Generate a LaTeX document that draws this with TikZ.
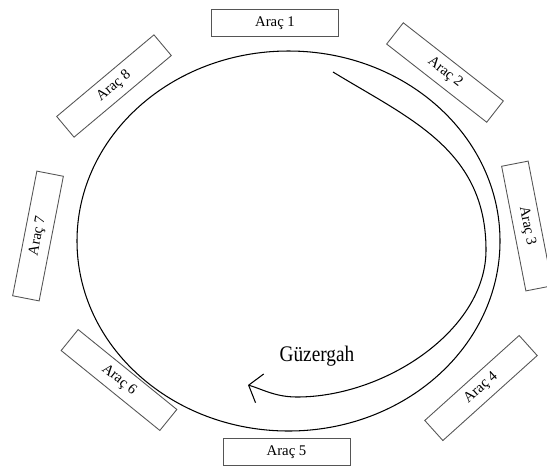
\documentclass[tikz,border=0pt]{standalone}
\usepackage{fontspec}
\setmainfont{Liberation Serif}
\usetikzlibrary{arrows.meta}
\definecolor{cline}{HTML}{555555}

\begin{document}
\begin{tikzpicture}[x=0.02cm, y=-0.02cm,
      arac/.style={draw=cline, line width=0.5pt, minimum width=2.54cm, minimum height=0.54cm, inner sep=0pt, font=\fontsize{8.4}{10}\selectfont},
      yol/.style={line width=0.6pt},
      arr/.style={line width=0.6pt, -{Straight Barb[length=6.5pt, width=17pt]}}
    ]
    \useasboundingbox (0,0) rectangle (547,471);
    \draw[yol] (288.5,241) ellipse [x radius=211.5, y radius=190];
    \node[arac] (a1) at (275,23) {Araç 1};
    \node[arac, rotate=-38] (a2) at (445,72.5) {Araç 2};
    \node[arac, rotate=-79] (a3) at (527,226) {Araç 3};
    \node[arac, rotate=42] (a4) at (481,388) {Araç 4};
    \node[arac] (a5) at (286.5,452) {Araç 5};
    \node[arac, rotate=-39] (a6) at (119,380) {Araç 6};
    \node[arac, rotate=79] (a7) at (38,236) {Araç 7};
    \node[arac, rotate=40] (a8) at (114,86) {Araç 8};
    \coordinate (gs) at (333,72);
    \coordinate (gr) at (486,250);
    \coordinate (gb) at (297,397);
    \coordinate (ge) at (248,385);
    \draw[arr] (gs) .. controls (410,119) and (486,150) .. (gr) .. controls (486,330) and (385,397) .. (gb) .. controls (275,397) and (262,389) .. (ge);
    \node[font=\fontsize{11}{13}\selectfont, yscale=1.15] (guz) at (317,356) {Güzergah};
\end{tikzpicture}
\end{document}
